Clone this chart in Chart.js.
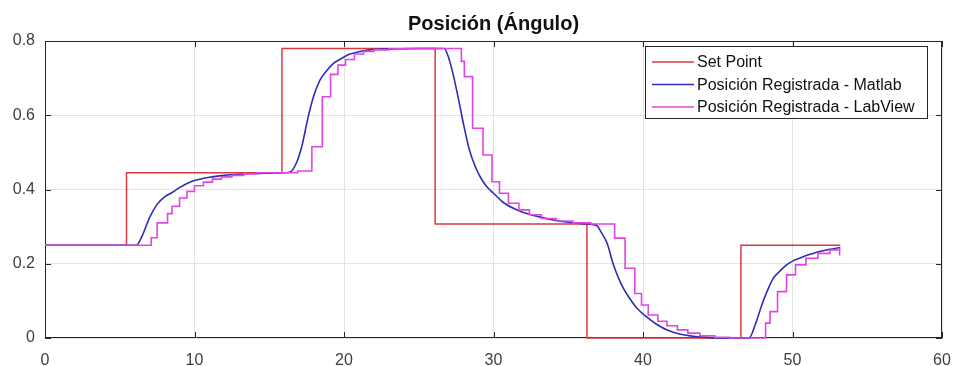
<!DOCTYPE html>
<html>
<head>
<meta charset="utf-8">
<script src="https://cdn.jsdelivr.net/npm/chart.js@4"></script>
<style>
    body { margin: 0; background: #fff; }
</style>
</head>
<body>
<canvas id="posicion" width="953" height="366"></canvas>
<script>
const FONT = "'Liberation Sans', Arial, sans-serif"

const title = 'Posición (Ángulo)'
const seriesNames = ['Set Point', 'Posición Registrada - Matlab', 'Posición Registrada - LabView']
const xTicks = [0, 10, 20, 30, 40, 50, 60]
const yTicks = [0, 0.2, 0.4, 0.6, 0.8]

// Set point (value held until the next time)
const spT = [0, 5.45, 15.85, 26.1, 36.25, 46.55, 53.2]
const spY = [0.25, 0.445, 0.78, 0.307, 0, 0.25, 0.25]

// Matlab response
const mlT = [
    0, 6.1, 6.5, 7.0, 7.5, 8.0, 8.5, 9.0, 9.5, 10, 11, 12, 13, 14, 15, 16,
    16.4, 16.8, 17.2, 17.6, 18.0, 18.4, 18.8, 19.3, 19.8, 20.4, 21, 21.7, 22.5, 23.5, 25,
    26.7, 27.0, 27.3, 27.6, 28.0, 28.4, 28.8, 29.1, 29.5, 30, 30.6, 31.3, 32, 33, 34, 35, 36.3,
    36.9, 37.2, 37.6, 38.0, 38.4, 38.7, 39.1, 39.6, 40.2, 40.9, 41.7, 42.5, 43.5, 44.5, 45.5,
    47.1, 47.5, 48.0, 48.4, 48.7, 49.1, 49.6, 50.1, 50.7, 51.3, 51.8, 52.4, 53.0, 53.2,
]
const mlY = [
    0.25, 0.25, 0.275, 0.325, 0.36, 0.38, 0.392, 0.405, 0.416, 0.424, 0.433, 0.438, 0.441, 0.443, 0.444, 0.445,
    0.447, 0.47, 0.52, 0.595, 0.655, 0.695, 0.718, 0.74, 0.752, 0.765, 0.771, 0.776, 0.778, 0.779, 0.78,
    0.78, 0.755, 0.71, 0.655, 0.575, 0.505, 0.46, 0.435, 0.41, 0.39, 0.367, 0.35, 0.338, 0.327, 0.318, 0.312, 0.307,
    0.303, 0.285, 0.255, 0.2, 0.158, 0.133, 0.107, 0.08, 0.058, 0.037, 0.02, 0.01, 0.004, 0.001, 0,
    0, 0.035, 0.095, 0.135, 0.16, 0.178, 0.197, 0.209, 0.219, 0.227, 0.233, 0.238, 0.242, 0.244,
]

// LabView samples (held until the next sample)
const lvT = [
    0, 6.7, 7.1, 7.5, 8.2, 8.5, 9.0, 9.5, 10.0, 10.6, 11.2, 11.8, 12.5, 13.3, 14.2,
    16.9, 17.85, 18.55, 19.1, 19.6, 20.1, 20.7, 21.3, 22.0, 23.0, 24,
    27.75, 27.85, 28.05, 28.6, 29.3, 29.9, 30.4, 31.0, 31.7, 32.4, 33.2, 34.2, 35.3, 36.5,
    38.1, 38.8, 39.45, 39.9, 40.35, 41.0, 41.6, 42.3, 43.0, 43.8, 44.8, 45.8,
    47.8, 48.2, 48.5, 49.0, 49.6, 50.2, 50.9, 51.7, 52.5, 53.0, 53.15,
]
const lvY = [
    0.25, 0.25, 0.27, 0.31, 0.335, 0.355, 0.377, 0.395, 0.41, 0.42, 0.428, 0.434, 0.438, 0.442, 0.445,
    0.45, 0.515, 0.65, 0.71, 0.735, 0.75, 0.765, 0.772, 0.776, 0.779, 0.78,
    0.78, 0.745, 0.704, 0.565, 0.493, 0.421, 0.39, 0.363, 0.345, 0.332, 0.322, 0.315, 0.31, 0.307,
    0.269, 0.188, 0.12, 0.089, 0.062, 0.045, 0.033, 0.022, 0.013, 0.006, 0.002, 0,
    0, 0.04, 0.071, 0.125, 0.17, 0.197, 0.215, 0.228, 0.237, 0.24, 0.222,
]

const colors = ['#dc3a3e', '#2e2eb4', '#e046e6']

const toPoints = (t, y) => t.map((x, i) => ({ x: x, y: y[i] }))

// MATLAB style box, inner ticks, legend and title
const matlabLook = {
    id: 'matlabLook',
    beforeDatasetsDraw(chart) {
        const c = chart.ctx
        const a = chart.chartArea
        const xs = chart.scales.x
        const ys = chart.scales.y
        c.save()
        c.strokeStyle = '#262626'
        c.lineWidth = 1
        c.strokeRect(a.left + 0.5, a.top + 0.5, a.right - a.left - 1, a.bottom - a.top - 1)
        c.beginPath()
        xTicks.forEach(v => {
            const px = Math.round(xs.getPixelForValue(v)) + 0.5
            c.moveTo(px, a.bottom)
            c.lineTo(px, a.bottom - 6)
            c.moveTo(px, a.top)
            c.lineTo(px, a.top + 6)
        })
        yTicks.forEach(v => {
            const py = Math.round(ys.getPixelForValue(v)) + 0.5
            c.moveTo(a.left, py)
            c.lineTo(a.left + 6, py)
            c.moveTo(a.right, py)
            c.lineTo(a.right - 6, py)
        })
        c.stroke()
        c.restore()
    },
    afterDatasetsDraw(chart) {
        const c = chart.ctx
        const a = chart.chartArea
        c.save()
        c.strokeStyle = '#262626'
        c.lineWidth = 1

        // legend
        const lx = 645, ly = 46, lw = 282, lh = 72
        c.fillStyle = '#fff'
        c.fillRect(lx, ly, lw, lh)
        c.strokeRect(lx + 0.5, ly + 0.5, lw, lh)
        c.font = '16px ' + FONT
        c.textBaseline = 'middle'
        c.textAlign = 'left'
        const rows = [62, 84.5, 107]
        seriesNames.forEach((name, i) => {
            c.strokeStyle = colors[i]
            c.lineWidth = 1.5
            c.beginPath()
            c.moveTo(652, rows[i])
            c.lineTo(694, rows[i])
            c.stroke()
            c.fillStyle = '#111'
            c.fillText(name, 697, rows[i] + 1)
        })

        // title
        c.fillStyle = '#111'
        c.font = 'bold 20px ' + FONT
        c.textAlign = 'center'
        c.fillText(title, (a.left + a.right) / 2, 24)
        c.restore()
    },
}

const chart = new Chart(document.getElementById('posicion').getContext('2d'), {
    type: 'line',
    data: {
        datasets: [
            {
                label: seriesNames[0],
                data: toPoints(spT, spY),
                borderColor: colors[0],
                borderWidth: 1.5,
                stepped: true,
                pointRadius: 0,
                clip: 3,
                order: 3,
            },
            {
                label: seriesNames[1],
                data: toPoints(mlT, mlY),
                borderColor: colors[1],
                borderWidth: 1.6,
                cubicInterpolationMode: 'monotone',
                pointRadius: 0,
                clip: 3,
                order: 2,
            },
            {
                label: seriesNames[2],
                data: toPoints(lvT, lvY),
                borderColor: colors[2],
                borderWidth: 1.6,
                stepped: true,
                pointRadius: 0,
                clip: 3,
                order: 1,
            },
        ],
    },
    options: {
        responsive: false,
        animation: false,
        layout: {
            padding: { top: 41, right: 11, left: 0, bottom: 0 },
        },
        plugins: {
            legend: { display: false },
            tooltip: { enabled: false },
        },
        scales: {
            x: {
                type: 'linear',
                min: 0,
                max: 60,
                afterFit: s => {
                    s.height = 28
                    s.paddingLeft = 0
                    s.paddingRight = 0
                },
                afterBuildTicks: s => { s.ticks = xTicks.map(v => ({ value: v })) },
                grid: { color: '#e3e3e3', drawTicks: false },
                border: { display: false },
                ticks: { color: '#404040', padding: 13, font: { family: FONT, size: 16 } },
            },
            y: {
                min: 0,
                max: 0.8,
                afterFit: s => {
                    s.width = 45
                    s.paddingTop = 0
                    s.paddingBottom = 0
                },
                afterBuildTicks: s => { s.ticks = yTicks.map(v => ({ value: v })) },
                grid: { color: '#e3e3e3', drawTicks: false },
                border: { display: false },
                ticks: { color: '#404040', padding: 10, font: { family: FONT, size: 16 } },
            },
        },
    },
    plugins: [matlabLook],
})
</script>
</body>
</html>
